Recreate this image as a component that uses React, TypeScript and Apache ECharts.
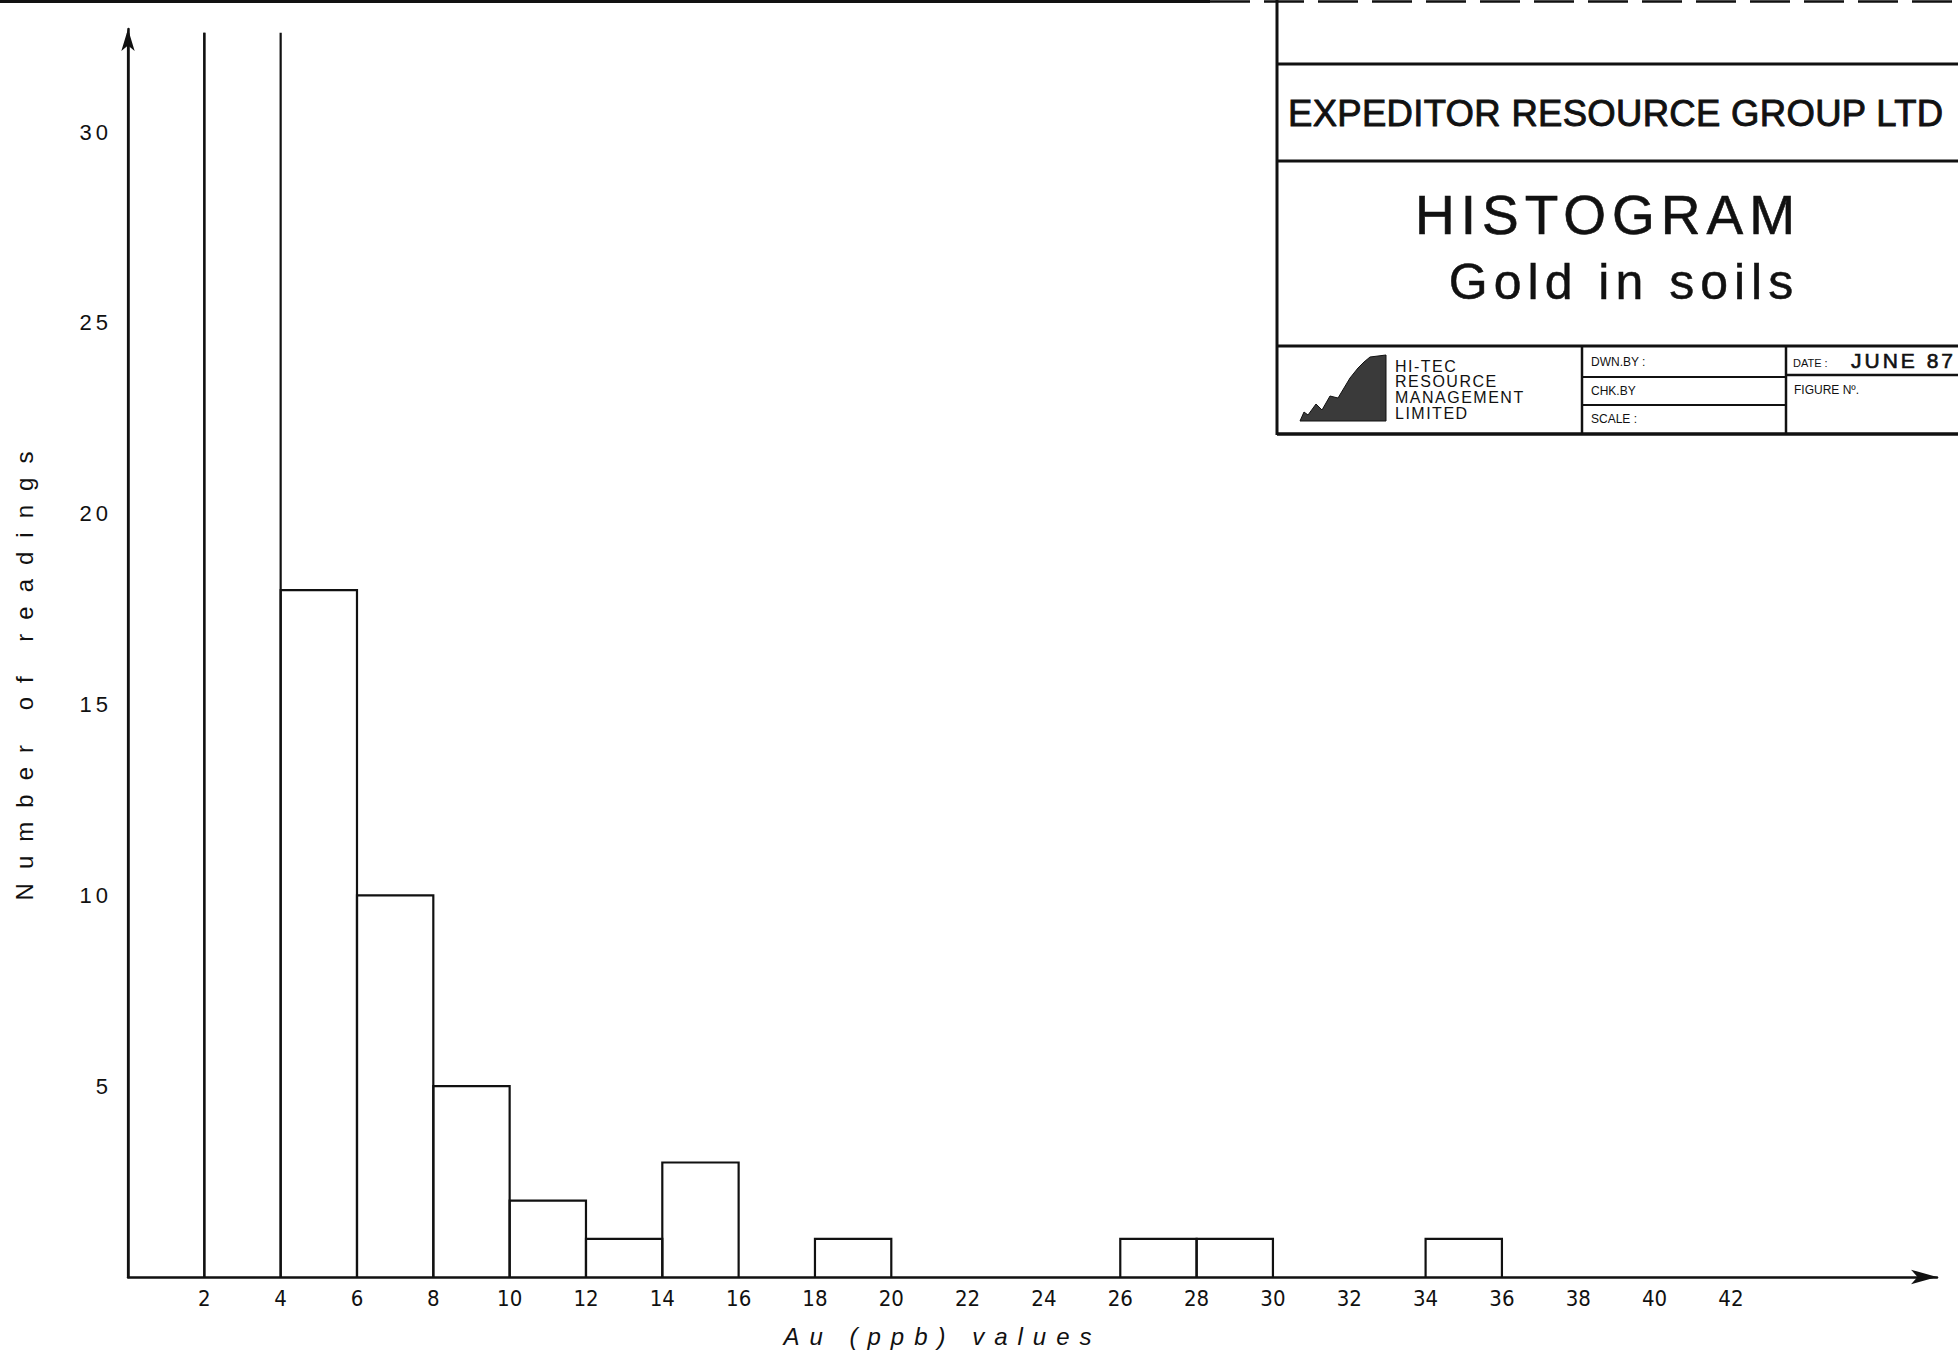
import React, { useEffect, useRef } from "react";
import * as echarts from "echarts";

// ---- data ----
const binStarts = [0, 2, 4, 6, 8, 10, 12, 14, 16, 18, 20, 22, 24, 26, 28, 30, 32, 34];
const binWidth = 2;
// first two classes run off the top of the scale (drawn open-topped)
const counts = [32.6, 32.6, 18, 10, 5, 2, 1, 3, 0, 1, 0, 0, 0, 1, 1, 0, 0, 1];
const offScale = [true, true, false, false, false, false, false, false, false, false, false, false, false, false, false, false, false, false];
const xTickLabels = [2, 4, 6, 8, 10, 12, 14, 16, 18, 20, 22, 24, 26, 28, 30, 32, 34, 36, 38, 40, 42];
const yTickLabels = [5, 10, 15, 20, 25, 30];
const xAxisTitle = "Au (ppb) values";
const yAxisTitle = "Number of readings";
const company = "EXPEDITOR RESOURCE GROUP LTD";
const chartTitle = "HISTOGRAM";
const chartSubtitle = "Gold in soils";
const firmLines = ["HI-TEC", "RESOURCE", "MANAGEMENT", "LIMITED"];
const boxLabels = ["DWN.BY :", "CHK.BY", "SCALE :"];
const dateLabel = "DATE :";
const dateValue = "JUNE 87";
const figureLabel = "FIGURE Nº.";

const INK = "#111";
const SANS = "'Liberation Sans', Arial, sans-serif";
const NARROW = "'Liberation Sans Narrow', 'DejaVu Sans Condensed', 'Liberation Sans', sans-serif";

const spacing: Record<string, number> = {
  [xAxisTitle]: 10,
  [yAxisTitle]: 14,
  [chartTitle]: 6,
  [chartSubtitle]: 6,
  [dateValue]: 3,
  [company]: 0.3,
};
firmLines.forEach((f) => (spacing[f] = 1.5));

export default function App() {
  const ref = useRef<HTMLDivElement>(null);
  useEffect(() => {
    if (!ref.current) return;
    const el = ref.current;
    const chart = echarts.init(el, null, { renderer: "svg" });

    const L = (x1: number, y1: number, x2: number, y2: number, w = 3, dash?: number[]) => ({
      type: "line",
      shape: { x1, y1, x2, y2 },
      style: { stroke: INK, lineWidth: w, lineDash: dash },
      silent: true,
    });
    const T = (text: string, x: number, y: number, size: number, align = "left", extra: any = {}) => ({
      type: "text",
      x,
      y,
      style: {
        text,
        fill: INK,
        font: `${extra.weight || "normal"} ${size}px ${extra.family || SANS}`,
        textAlign: align,
        textVerticalAlign: "middle",
        stroke: extra.stroke ? INK : undefined,
        lineWidth: extra.stroke || 0,
      },
      silent: true,
    });

    const graphics: any[] = [
      L(0, 1.5, 1210, 1.5, 3),
      L(1210, 1.5, 1958, 1.5, 2.5, [40, 14]),
      L(1277, 0, 1277, 435, 3),
      L(1277, 64, 1958, 64, 3),
      L(1277, 161, 1958, 161, 3),
      L(1277, 346, 1958, 346, 3),
      L(1277, 434, 1958, 434, 3.5),
      L(1582, 346, 1582, 434, 2.5),
      L(1786, 346, 1786, 434, 2.5),
      L(1582, 377, 1786, 377, 2),
      L(1582, 405, 1786, 405, 2),
      L(1786, 375, 1958, 375, 2.5),
      T(company, 1288, 113, 36.5, "left", { stroke: 0.9 }),
      T(chartTitle, 1608, 215, 55, "center", { stroke: 0.6 }),
      T(chartSubtitle, 1624, 282, 50, "center", { stroke: 0.5 }),
      ...firmLines.map((f, i) => T(f, 1395, 366 + i * 15.7, 16)),
      ...boxLabels.map((b, i) => T(b, 1591, 362 + i * 28.5, 12)),
      T(dateLabel, 1793, 363, 11),
      T(dateValue, 1851, 360, 21, "left", { stroke: 0.6 }),
      T(figureLabel, 1794, 390, 12),
      {
        type: "polygon",
        shape: {
          points: [
            [1300, 421], [1304, 412], [1308, 415], [1316, 404], [1322, 410], [1330, 396],
            [1338, 398], [1350, 378], [1358, 368], [1364, 362], [1370, 357], [1386, 355],
            [1386, 421],
          ],
        },
        style: { fill: "#3a3a3a", stroke: INK, lineWidth: 1 },
        silent: true,
      },
    ];

    const option: any = {
      animation: false,
      backgroundColor: "#fff",
      grid: { left: 128, top: 29, width: 1809, height: 1251, containLabel: false },
      xAxis: {
        type: "value",
        min: 0,
        max: 47.4,
        interval: 2,
        splitLine: { show: false },
        axisTick: { show: false },
        axisLine: {
          show: true,
          onZero: false,
          symbol: ["none", "arrow"],
          symbolSize: [11, 26],
          lineStyle: { color: INK, width: 2.5 },
        },
        axisLabel: {
          formatter: (v: number) => (xTickLabels.includes(v) ? String(v) : ""),
          margin: 10,
          color: INK,
          fontSize: 22,
          fontFamily: NARROW,
          showMinLabel: false,
          showMaxLabel: false,
        },
        name: xAxisTitle,
        nameLocation: "middle",
        nameGap: 47,
        nameTextStyle: {
          color: INK,
          fontSize: 24,
          fontStyle: "italic",
          fontFamily: SANS,
          padding: [0, 180, 0, 0],
        },
      },
      yAxis: {
        type: "value",
        min: 0,
        max: 32.7,
        interval: 5,
        splitLine: { show: false },
        axisTick: { show: false },
        axisLine: {
          show: true,
          onZero: false,
          symbol: ["none", "arrow"],
          symbolSize: [10, 22],
          lineStyle: { color: INK, width: 2.5 },
        },
        axisLabel: {
          formatter: (v: number) => (yTickLabels.includes(v) ? String(v) : ""),
          margin: 16,
          color: INK,
          fontSize: 22,
          fontFamily: SANS,
          showMaxLabel: false,
        },
        name: yAxisTitle,
        nameLocation: "middle",
        nameGap: 92,
        nameTextStyle: {
          color: INK,
          fontSize: 24,
          fontFamily: SANS,
          padding: [0, 32, 0, 0],
        },
      },
      series: [
        {
          type: "custom",
          clip: false,
          encode: { x: [0, 1], y: 2 },
          data: binStarts.map((s, i) => [s, s + binWidth, counts[i], offScale[i] ? 1 : 0]),
          renderItem: (params: any, api: any) => {
            const v = api.value(2);
            if (!v) return { type: "group", children: [] };
            const p0 = api.coord([api.value(0), 0]);
            const p1 = api.coord([api.value(1), v]);
            const style = { stroke: INK, lineWidth: 2.2, fill: "none" };
            if (api.value(3)) {
              return {
                type: "group",
                children: [
                  { type: "line", shape: { x1: p0[0], y1: p0[1], x2: p0[0], y2: p1[1] }, style },
                  { type: "line", shape: { x1: p1[0], y1: p0[1], x2: p1[0], y2: p1[1] }, style },
                ],
              };
            }
            return {
              type: "polyline",
              shape: {
                points: [
                  [p0[0], p0[1]],
                  [p0[0], p1[1]],
                  [p1[0], p1[1]],
                  [p1[0], p0[1]],
                ],
              },
              style,
            };
          },
        },
      ],
      graphic: graphics,
    };

    chart.setOption(option);

    const applySpacing = () => {
      el.querySelectorAll("text").forEach((t: any) => {
        const s = t.textContent || "";
        if (spacing[s] != null) {
          t.style.letterSpacing = spacing[s] + "px";
        } else if (/^\d+$/.test(s) && t.getAttribute("text-anchor") === "end") {
          t.style.letterSpacing = "4px";
        }
      });
    };
    applySpacing();
    chart.on("finished", applySpacing);

    return () => {
      chart.dispose();
    };
  }, []);

  return (
    <div
      ref={ref}
      style={{ position: "fixed", left: 0, top: 0, width: 1958, height: 1353, background: "#fff" }}
    />
  );
}
